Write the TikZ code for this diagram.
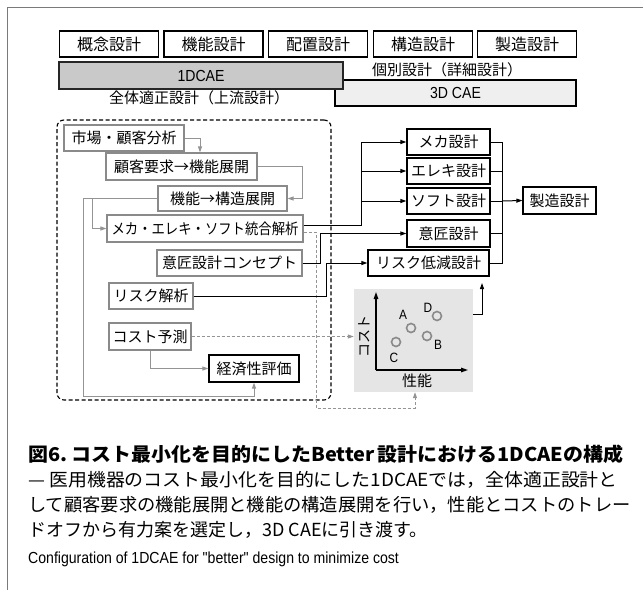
\documentclass[tikz,border=0pt]{standalone}
\usepackage{fontspec}
\setmainfont{Noto Sans CJK JP}
\newfontfamily\lat[FakeStretch=0.88]{Liberation Sans}
\usetikzlibrary{arrows.meta}
\definecolor{gline}{HTML}{949494}
\definecolor{gborder}{HTML}{8A8A8A}
\definecolor{framec}{HTML}{7A7A7A}
\definecolor{barA}{HTML}{C9C9C9}
\definecolor{barB}{HTML}{EFEFEF}
\definecolor{chartbg}{HTML}{E5E5E5}
\definecolor{circc}{HTML}{8A8A8A}
\begin{document}
\begin{tikzpicture}[x=1pt,y=-1pt,
  gbox/.style={draw=gborder, line width=1.1pt, fill=white, inner sep=0pt, font=\fontsize{15}{15}\selectfont},
  kbox/.style={draw=black, line width=1.2pt, fill=white, inner sep=0pt, font=\fontsize{15}{15}\selectfont},
  tbox/.style={kbox, minimum width=99pt, minimum height=26pt, font=\fontsize{16}{16}\selectfont},
  rbox/.style={kbox, minimum width=83pt, minimum height=26pt},
  tip/.style={-{Triangle[length=6pt,width=4pt]}},
  garr/.style={draw=gline, line width=1pt, tip},
  karr/.style={draw=black, line width=1pt, tip},
  kline/.style={draw=black, line width=1pt},
  gdash/.style={draw=gline, line width=1pt, dash pattern=on 3pt off 2pt},
  ptc/.style={circle, draw=circc, line width=1.6pt, minimum size=9pt, inner sep=0pt},
  plab/.style={font=\lat\fontsize{13.5}{13.5}\selectfont, inner sep=0pt},
  captxt/.style={anchor=west, inner sep=0pt},
]
\useasboundingbox (0,0) rectangle (643,590);
\draw[framec, line width=1pt] (643,7) -- (7,7) -- (7,590);

% top row
\node[tbox] (c1) at (109,44) {概念設計};
\node[tbox] (c2) at (213.5,44) {機能設計};
\node[tbox] (c3) at (318,44) {配置設計};
\node[tbox] (c4) at (423,44) {構造設計};
\node[tbox] (c5) at (527,44) {製造設計};

% bars
\node[draw=black, line width=1.2pt, fill=barB, minimum width=241pt, minimum height=26pt, inner sep=0pt, font=\lat\fontsize{16}{16}\selectfont] (cae3) at (455.5,93) {3D CAE};
\node[draw=black!85, line width=1.2pt, fill=barA, minimum width=284pt, minimum height=27pt, inner sep=0pt, font=\lat\fontsize{16}{16}\selectfont] (cae1) at (201,75.5) {1DCAE};
\node[font=\fontsize{15}{15}\selectfont, inner sep=0pt] (kobetsu) at (447,70) {個別設計（詳細設計）};
\node[font=\fontsize{15}{15}\selectfont, inner sep=0pt] (zentai) at (199,98) {全体適正設計（上流設計）};

% upstream dashed frame
\node[draw=black, line width=1.1pt, dash pattern=on 4pt off 2.5pt, rounded corners=7pt, minimum width=274pt, minimum height=280pt, inner sep=0pt] (up) at (194,260) {};

% left boxes
\node[gbox, minimum width=120pt, minimum height=26pt] (m1) at (124,138) {市場・顧客分析};
\node[gbox, minimum width=151pt, minimum height=27pt] (m2) at (181.5,166.5) {顧客要求→機能展開};
\node[gbox, minimum width=129pt, minimum height=25pt] (m3) at (222.5,198.5) {機能→構造展開};
\node[gbox, minimum width=196pt, minimum height=27pt, font=\fontsize{15}{15}\selectfont\addfontfeature{FakeStretch=0.89}] (m4) at (205,228.5) {メカ・エレキ・ソフト統合解析};
\node[gbox, minimum width=145pt, minimum height=26pt] (m5) at (229.5,263) {意匠設計コンセプト};
\node[gbox, minimum width=84pt, minimum height=26pt] (m6) at (151,296) {リスク解析};
\node[gbox, minimum width=82pt, minimum height=27pt] (m7) at (150,336.5) {コスト予測};
\node[kbox, minimum width=90pt, minimum height=27pt] (m8) at (254,368.5) {経済性評価};

% right boxes
\node[rbox] (r1) at (448.5,142) {メカ設計};
\node[rbox] (r2) at (448.5,171) {エレキ設計};
\node[rbox] (r3) at (448.5,201) {ソフト設計};
\node[rbox, minimum height=27pt] (r4) at (448.5,233.5) {意匠設計};
\node[kbox, minimum width=121pt, minimum height=26pt] (r5) at (428.5,263) {リスク低減設計};
\node[kbox, minimum width=73pt, minimum height=27pt] (r6) at (559.5,200.5) {製造設計};

% chart
\node[fill=chartbg, minimum width=119pt, minimum height=103pt, inner sep=0pt] (chart) at (413.5,340.5) {};
\coordinate (o) at (376,370);
\coordinate (ytop) at (376,292);
\coordinate (xend) at (468,370);
\draw[line width=1.3pt, -{Triangle[length=7pt,width=4.5pt]}] (o) -- (ytop);
\draw[line width=1.3pt, -{Triangle[length=7pt,width=4.5pt]}] (o) -- (xend);
\node[rotate=90, font=\fontsize{14}{14}\selectfont, inner sep=0pt] (cost) at (364,336) {コスト};
\node[font=\fontsize{15}{15}\selectfont, inner sep=0pt] (perf) at (417,381) {性能};
\node[ptc] (pA) at (411,328) {};
\node[ptc] (pD) at (437,316) {};
\node[ptc] (pB) at (427,336) {};
\node[ptc] (pC) at (396,342) {};
\node[plab] (lA) at (403,315) {A};
\node[plab] (lD) at (428,308) {D};
\node[plab] (lB) at (438,345) {B};
\node[plab] (lC) at (394,358) {C};

% gray connectors
\draw[garr] (m1.east) -| ([xshift=18.5pt]m2.north);
\draw[garr] (m2.east) -- ++(45,0) |- (m3.east);
\coordinate (g1) at (83,198.5);
\coordinate (g2) at (83,396);
\coordinate (b1) at (92,198.5);
\draw[garr] (m3.west) -- (g1) -- (g2) -| (m8.south);
\draw[garr] (b1) |- (m4.west);
\draw[garr] (m7.south) |- (m8.west);
\draw[gdash, tip] (m7.east) -- (m7.east -| chart.west);
\coordinate (d1) at (316,232);
\coordinate (d2) at (316,408);
\draw[gdash, tip] ([yshift=-3.5pt]m4.east) -- (d1) -- (d2) -| ([xshift=1.5pt]chart.south);

% black connectors
\coordinate (j1) at (361,225);
\draw[karr] ([yshift=3.5pt]m4.east) -- (j1) |- (r1.west);
\draw[karr] (j1 |- r2.west) -- (r2.west);
\draw[karr] (j1 |- r3.west) -- (r3.west);
\coordinate (j2) at (320,263);
\draw[karr] (m5.east) -- (j2) |- (r4.west);
\coordinate (j3) at (326,296);
\draw[karr] (m6.east) -- (j3) |- (r5.west);

\coordinate (colx) at (502,200);
\draw[kline] (r1.east) -- (r1.east -| colx) -- (r5.east -| colx) -- (r5.east);
\draw[kline] (r2.east) -- (r2.east -| colx);
\draw[kline] (r3.east) -- (r3.east -| colx);
\draw[kline] (r4.east) -- (r4.east -| colx);
\draw[karr] (r3.east -| colx) -- (r6.west);

\coordinate (rt) at (482,283);
\draw[karr] ([yshift=26.5pt]chart.east) -| (rt);

% caption
\node[captxt, font=\bfseries\fontsize{19}{19}\selectfont\addfontfeature{FakeStretch=1.05}] (cap1) at (28,454) {図6.\ コスト最小化を目的にしたBetter\,設計における1DCAEの構成};
\node[captxt, font=\fontsize{18}{18}\selectfont\addfontfeature{FakeStretch=1.05}] (cap2) at (28,480) {— 医用機器のコスト最小化を目的にした1DCAEでは，全体適正設計と};
\node[captxt, font=\fontsize{18}{18}\selectfont\addfontfeature{FakeStretch=1.015}] (cap3) at (28,505) {して顧客要求の機能展開と機能の構造展開を行い，性能とコストのトレー};
\node[captxt, font=\fontsize{18}{18}\selectfont] (cap4) at (28,530) {ドオフから有力案を選定し，3D CAEに引き渡す。};
\node[captxt, font=\lat\fontsize{16}{16}\selectfont] (cap5) at (28,559) {Configuration of 1DCAE for "better" design to minimize cost};
\end{tikzpicture}
\end{document}
